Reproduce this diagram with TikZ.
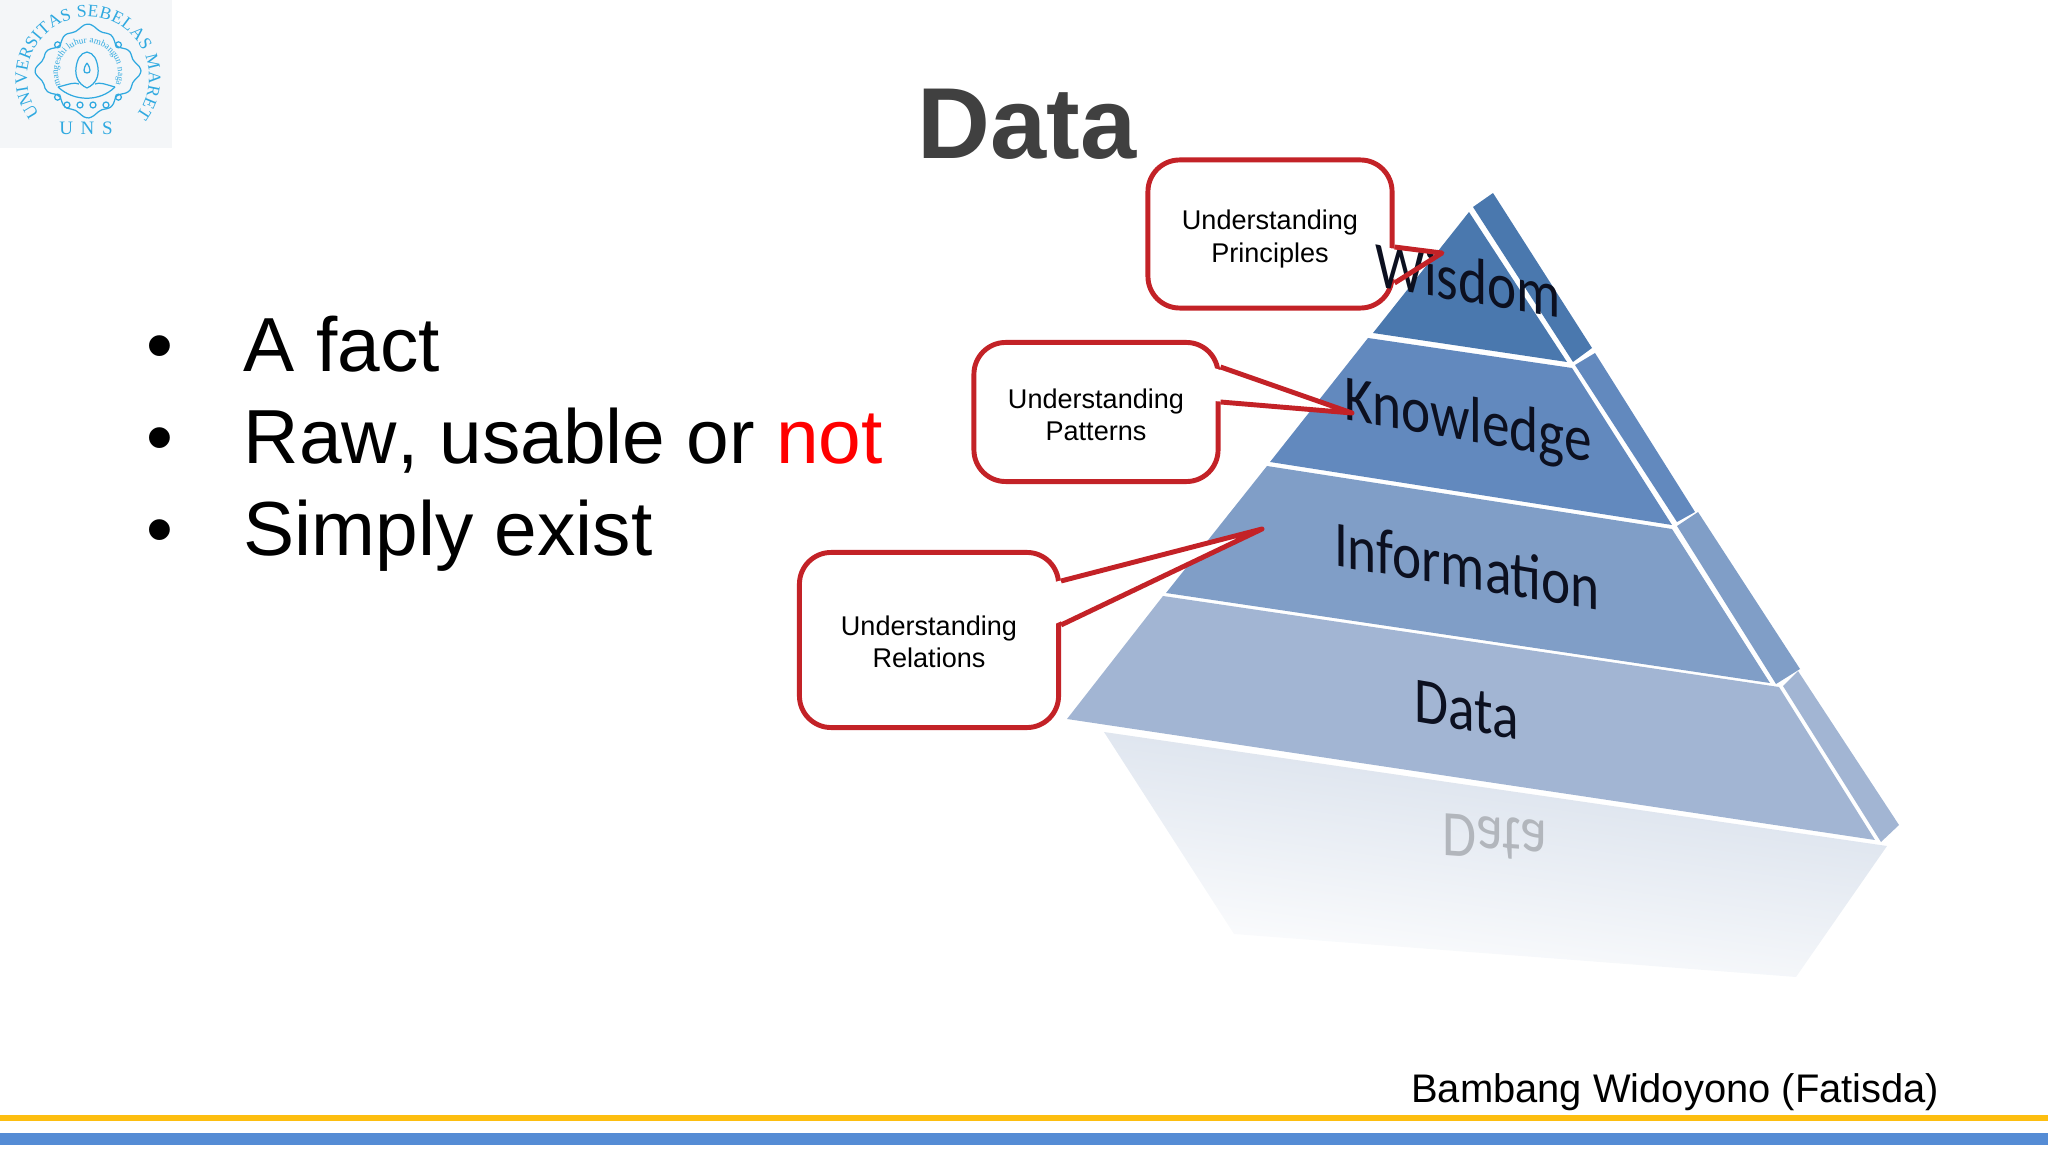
\documentclass[tikz,border=0pt]{standalone}
\usepackage{fontspec}
\setmainfont{Liberation Sans}
\newfontfamily\pyrfont{Carlito}
\newfontfamily\logofont{Liberation Serif}
\usetikzlibrary{positioning, decorations.text}
\definecolor{titlegray}{HTML}{404040}
\definecolor{calloutred}{HTML}{C32227}
\definecolor{logoblue}{HTML}{2FA9E0}
\definecolor{logoback}{HTML}{F4F6F8}
\definecolor{wisdomblue}{HTML}{4A78AE}
\definecolor{knowledgeblue}{HTML}{6289BE}
\definecolor{informationblue}{HTML}{809EC7}
\definecolor{datablue}{HTML}{A2B5D3}
\definecolor{mirrortop}{HTML}{D3DCE9}
\definecolor{mirrormid}{HTML}{EBEFF7}
\definecolor{mirrortext}{HTML}{B2B6BC}
\definecolor{pyrink}{HTML}{0C1020}
\definecolor{baryellow}{HTML}{FDBE10}
\definecolor{barblue}{HTML}{558CD5}

\begin{document}
\begin{tikzpicture}[
    x=0.01cm, y=-0.01cm,
    bullet text/.style={anchor=base west, inner sep=0pt, font=\fontsize{21.8pt}{26pt}\selectfont, text=black},
    calloutbox/.style={rectangle, draw=calloutred, fill=white, line width=1.4pt, rounded corners=9pt, inner sep=0pt},
    callout text/.style={align=center, font=\fontsize{7.7pt}{9.2pt}\selectfont, text=black, inner sep=0pt},
    tail/.style={draw=calloutred, line width=1.4pt, line join=round},
    band label/.style={yslant=-0.17, xscale=0.85, inner sep=0pt, font=\pyrfont\fontsize{18.5pt}{22pt}\selectfont, text=pyrink},
    logoline/.style={draw=logoblue, line width=0.35pt}
  ]
  \useasboundingbox (0,0) rectangle (2048,1152);

  % logo
  \fill[logoback] (0,0) rectangle (172,148);
  \begin{scope}[shift={(88,78)}, x=0.01cm, y=0.01cm]
    \path[decorate, decoration={text along path, text align={fit to path},
      text={|\logofont\fontsize{5pt}{5pt}\selectfont\color{logoblue}|UNIVERSITAS SEBELAS MARET}}]
      (217:61) arc[start angle=217, end angle=-38, radius=61];
    \path[decorate, decoration={text along path, text align={fit to path},
      text={|\logofont\fontsize{2.6pt}{3pt}\selectfont\color{logoblue}|mangesthi luhur ambangun nagara}}]
      ([shift={(0,5)}]205:30) arc[start angle=205, end angle=-25, radius=30];
    \draw[logoline] plot[smooth cycle, samples=65, domain=0:354, variable=\t]
      ({(47+4*cos(4*\t)+2*cos(12*\t))*cos(\t)}, {7+(41+4*cos(4*\t)+2*cos(12*\t))*sin(\t)});
    \foreach \a in {45,135,225,315}
      \draw[logoline] ({43*cos(\a)},{7+37*sin(\a)}) circle (3);
    \foreach \u in {-21,-8,5,18}
      \draw[logoline] (\u,-27) circle (3);
    % head and shoulders
    \draw[logoline] (-1,-10) .. controls (-10,-6) and (-13,2) .. (-12,10) .. controls (-11,18) and (-8,25) .. (-1,26)
      .. controls (6,25) and (9,18) .. (10,10) .. controls (11,2) and (8,-6) .. (-1,-10);
    \draw[logoline] (-30,-9) .. controls (-18,-6) and (-14,-4) .. (-9,-6);
    \draw[logoline] (27,-9) .. controls (16,-6) and (12,-4) .. (7,-6);
    \draw[logoline] (-30,-9) .. controls (-14,-24) and (12,-24) .. (27,-9);
    \draw[logoline] (-1,15) .. controls (-5,9) and (-5,5) .. (-1,5) .. controls (3,5) and (3,9) .. (-1,15);
  \end{scope}
  \node[font=\logofont\fontsize{5.4pt}{6pt}\selectfont, text=logoblue, inner sep=0pt] (uns) at (86,128) {U\hspace{2.2pt}N\hspace{2.2pt}S};

  % heading and list
  \node[font=\bfseries\fontsize{28.7pt}{32pt}\selectfont, text=titlegray, anchor=base, inner sep=0pt] (title) at (1027,159) {Data};
  \node[bullet text] (dota) at (146,372) {•};
  \node[bullet text] (dotb) at (146,464) {•};
  \node[bullet text] (dotc) at (146,556) {•};
  \node[bullet text] (facta) at (243,372) {A fact};
  \node[bullet text] (factb) at (243,464) {\addfontfeatures{Kerning=Off}Raw, usable or {\color{red}not}};
  \node[bullet text] (factc) at (243,556) {Simply exist};

  % pyramid, mirror first
  \shade[top color=mirrortop, middle color=mirrormid, bottom color=white, shading angle=-8]
    (1104,732) -- (1887,846) -- (1796,977) -- (1234,934) -- cycle;
  \node[yslant=-0.07, xscale=0.85, inner sep=0pt, font=\pyrfont\fontsize{18.5pt}{22pt}\selectfont, text=mirrortext] (mirror) at (1495,838) {\scalebox{1}[-1]{Data}};

  \fill[wisdomblue] (1469,212) -- (1567,362) -- (1373,333) -- cycle;
  \fill[wisdomblue] (1473,207) -- (1493,193) -- (1592,348) -- (1573,362) -- cycle;
  \fill[knowledgeblue] (1368,338) -- (1572,368) -- (1672,525) -- (1270,462) -- cycle;
  \fill[knowledgeblue] (1575,365) -- (1595,353) -- (1695,512) -- (1677,522) -- cycle;
  \fill[informationblue] (1267,466) -- (1672,529) -- (1770,683) -- (1166,593) -- cycle;
  \fill[informationblue] (1677,526) -- (1698,512) -- (1800,669) -- (1776,684) -- cycle;
  \fill[datablue] (1163,596) -- (1779,687) -- (1875,840) -- (1067,719) -- cycle;
  \fill[datablue] (1783,686) -- (1798,671) -- (1899,825) -- (1881,842) -- cycle;

  % callout boxes
  \node[calloutbox, minimum width=2.44cm, minimum height=1.48cm] (principles) at (1270,234) {};
  \node[calloutbox, minimum width=2.44cm, minimum height=1.39cm] (patterns) at (1096,412) {};
  \node[calloutbox, minimum width=2.59cm, minimum height=1.75cm] (relations) at (929,640) {};
  \node[callout text] (principlestext) at (1270,239) {Understanding\\Principles};
  \node[callout text] (patternstext) at (1096,415) {Understanding\\Patterns};
  \node[callout text] (relationstext) at (929,642) {Understanding\\Relations};

  \fill[white] (1388,248) -- (1442,253) -- (1388,282) -- cycle;
  \fill[white] (1214,368) -- (1352,413) -- (1214,401) -- cycle;
  \fill[white] (1055,582) -- (1262,529) -- (1055,624) -- cycle;

  % band labels
  \node[band label] (wisdom) at (1468,280) {Wisdom};
  \node[band label] (knowledge) at (1468,424) {Knowledge};
  \node[band label] (information) at (1467,566) {Information};
  \node[band label] (data) at (1467,710) {Data};

  % tails
  \coordinate (principlestip) at (1442,253);
  \coordinate (patternstip) at (1352,413);
  \coordinate (relationstip) at (1262,529);
  \draw[tail] (principles.east |- 0,247) -- (principlestip) -- (principles.east |- 0,283);
  \draw[tail] (patterns.east |- 0,367) -- (patternstip) -- (patterns.east |- 0,402);
  \draw[tail] (relations.east |- 0,581) -- (relationstip) -- (relations.east |- 0,625);

  % footer
  \node[anchor=base east, inner sep=0pt, font=\fontsize{11.35pt}{14pt}\selectfont, text=black] (author) at (1940,1102) {Bambang Widoyono (Fatisda)};
  \fill[baryellow] (0,1115) rectangle (2048,1121);
  \fill[barblue] (0,1133) rectangle (2048,1145);

\end{tikzpicture}
\end{document}
